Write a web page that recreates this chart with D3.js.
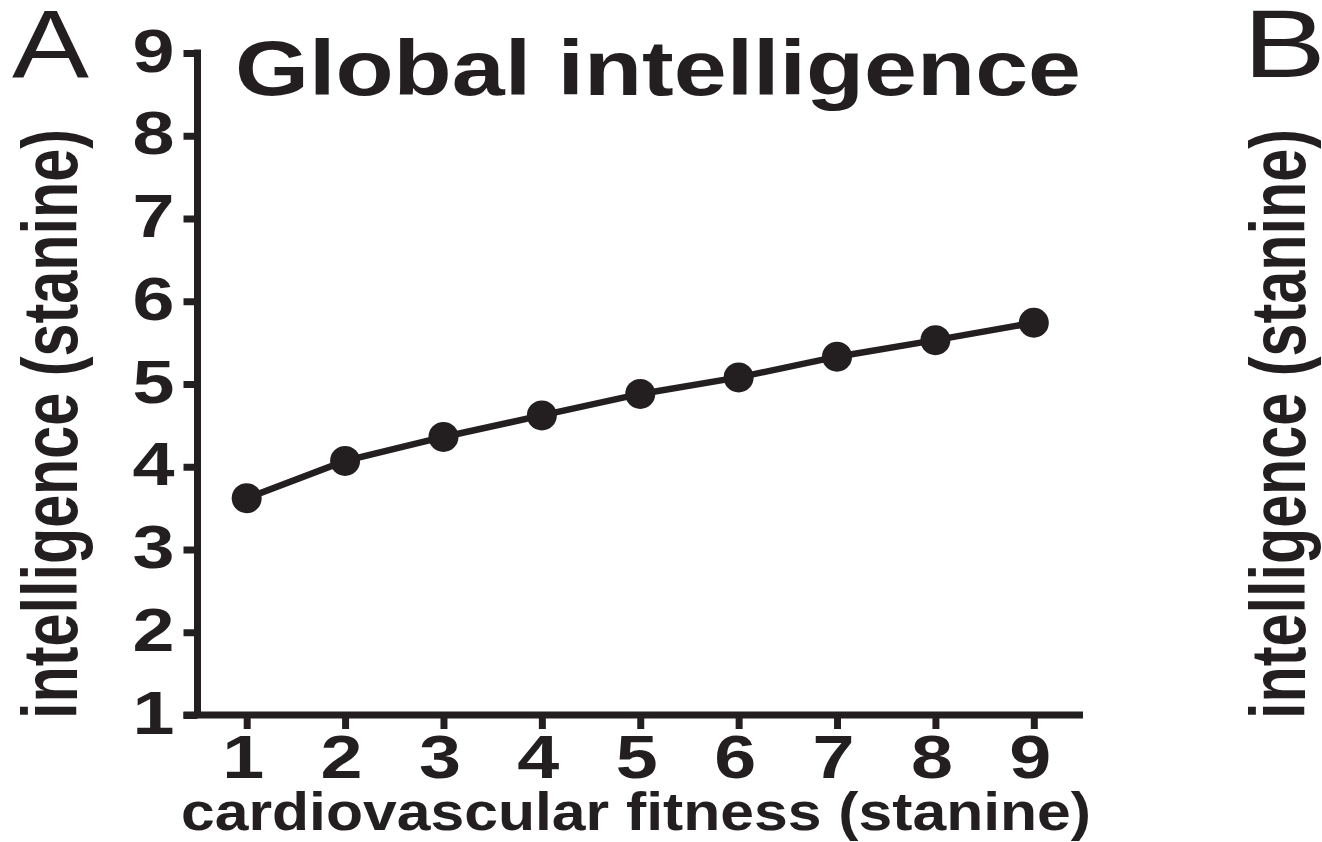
<!DOCTYPE html>
<html>
<head>
<meta charset="utf-8">
<script src="https://cdn.jsdelivr.net/npm/d3@7"></script>
<style>
  html, body { margin: 0; padding: 0; background: #ffffff; }
  svg { display: block; }
  text { font-family: "Liberation Sans", Arial, Helvetica, sans-serif; fill: #231f20; }
</style>
</head>
<body>
<svg id="chart" width="1322" height="842"></svg>
<script>
// Fitness stanine (x) and mean global intelligence stanine (y)
const fitnessStanine = [1, 2, 3, 4, 5, 6, 7, 8, 9];
const intelligenceMean = [3.62, 4.07, 4.36, 4.62, 4.88, 5.08, 5.33, 5.53, 5.74];
const xTickValues = [1, 2, 3, 4, 5, 6, 7, 8, 9];
const yTickValues = [1, 2, 3, 4, 5, 6, 7, 8, 9];
const panelTitle = "Global intelligence";
const xAxisTitle = "cardiovascular fitness (stanine)";
const yAxisTitle = "intelligence (stanine)";
const panelLetters = ["A", "B"];

const ink = "#231f20";
const svg = d3.select("#chart");

svg.append("rect").attr("width", 1322).attr("height", 842).attr("fill", "#fff");

const x = d3.scaleLinear().domain([0.5, 9.5]).range([197.5, 1083]);
const y = d3.scaleLinear().domain([1, 9]).range([715, 53]);

const axisW = 7;
const tickLen = 14;
const x0 = x(0.5);

// axis lines
svg.append("line")
  .attr("x1", x0).attr("x2", x0)
  .attr("y1", y(1)).attr("y2", y(9) - axisW / 2)
  .attr("stroke", ink).attr("stroke-width", axisW);
svg.append("line")
  .attr("x1", x0 - tickLen).attr("x2", x(9.5))
  .attr("y1", y(1)).attr("y2", y(1))
  .attr("stroke", ink).attr("stroke-width", axisW);

// y axis ticks + labels
const yAxis = svg.append("g")
  .attr("transform", `translate(${x0},0)`)
  .call(d3.axisLeft(y).tickValues(yTickValues).tickSize(tickLen).tickFormat(d3.format("d")));
yAxis.select(".domain").remove();
yAxis.selectAll(".tick line").attr("stroke", ink).attr("stroke-width", axisW);
yAxis.selectAll(".tick text")
  .attr("x", -23).attr("dy", 18)
  .attr("text-anchor", "end")
  .attr("font-size", 62).attr("font-weight", "bold")
  .attr("textLength", 42).attr("lengthAdjust", "spacingAndGlyphs")
  .attr("fill", ink);

// x axis ticks + labels
const xAxis = svg.append("g")
  .attr("transform", `translate(0,${y(1)})`)
  .call(d3.axisBottom(x).tickValues(xTickValues).tickSize(tickLen).tickFormat(d3.format("d")));
xAxis.select(".domain").remove();
xAxis.selectAll(".tick line").attr("stroke", ink).attr("stroke-width", axisW);
xAxis.selectAll(".tick text")
  .attr("x", -4).attr("y", 63).attr("dy", 0)
  .attr("text-anchor", "middle")
  .attr("font-size", 62).attr("font-weight", "bold")
  .attr("textLength", 42).attr("lengthAdjust", "spacingAndGlyphs")
  .attr("fill", ink);

// data line + markers
const line = d3.line()
  .x((d, i) => x(fitnessStanine[i]))
  .y(d => y(d));
svg.append("path")
  .datum(intelligenceMean)
  .attr("d", line)
  .attr("fill", "none")
  .attr("stroke", ink)
  .attr("stroke-width", 6.5);
svg.selectAll("circle.pt")
  .data(intelligenceMean)
  .join("circle")
  .attr("class", "pt")
  .attr("cx", (d, i) => x(fitnessStanine[i]))
  .attr("cy", d => y(d))
  .attr("r", 15)
  .attr("fill", ink);

// titles
svg.append("text")
  .attr("x", 658).attr("y", 95)
  .attr("text-anchor", "middle")
  .attr("font-size", 78).attr("font-weight", "bold")
  .attr("textLength", 846).attr("lengthAdjust", "spacingAndGlyphs")
  .text(panelTitle);

svg.append("text")
  .attr("x", 636).attr("y", 830)
  .attr("text-anchor", "middle")
  .attr("font-size", 53).attr("font-weight", "bold")
  .attr("textLength", 910).attr("lengthAdjust", "spacingAndGlyphs")
  .text(xAxisTitle);

// y titles for panel A and the adjacent panel B
[77, 1305].forEach(bx => {
  svg.append("text")
    .attr("transform", `translate(${bx},424) rotate(-90)`)
    .attr("text-anchor", "middle")
    .attr("font-size", 78).attr("font-weight", "bold")
    .attr("textLength", 590).attr("lengthAdjust", "spacingAndGlyphs")
    .text(yAxisTitle);
});

// panel letters
svg.append("text")
  .attr("x", 12).attr("y", 77)
  .attr("font-size", 96)
  .attr("textLength", 77).attr("lengthAdjust", "spacingAndGlyphs")
  .text(panelLetters[0]);
svg.append("text")
  .attr("x", 1243).attr("y", 77)
  .attr("font-size", 96)
  .attr("textLength", 83).attr("lengthAdjust", "spacingAndGlyphs")
  .text(panelLetters[1]);
</script>
</body>
</html>
